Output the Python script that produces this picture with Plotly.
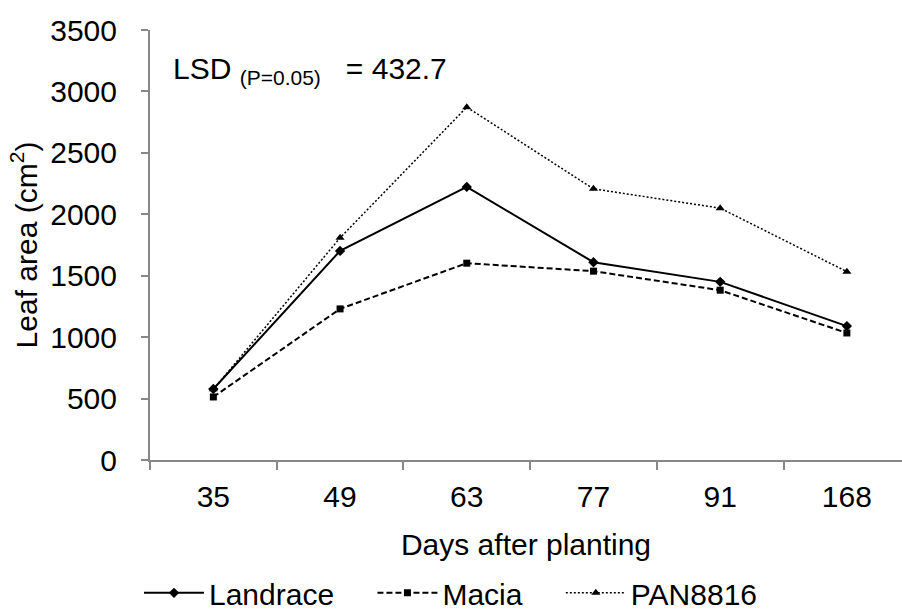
import plotly.graph_objects as go

days = ["35", "49", "63", "77", "91", "168"]
landrace = [578, 1702, 2223, 1610, 1450, 1090]
macia = [513, 1230, 1602, 1537, 1382, 1034]
pan8816 = [575, 1808, 2872, 2207, 2050, 1533]
series_names = ["Landrace", "Macia", "PAN8816"]

FONT = "Liberation Sans, Arial, sans-serif"
PAD = "\u00a0" * 4

fig = go.Figure()
fig.add_trace(go.Scatter(x=days, y=landrace, name=series_names[0] + PAD, mode="lines+markers",
                         line=dict(color="black", width=2, dash="solid"),
                         marker=dict(symbol="diamond", size=8, color="black")))
fig.add_trace(go.Scatter(x=days, y=macia, name=series_names[1] + PAD, mode="lines+markers",
                         line=dict(color="black", width=2, dash="6px,3px"),
                         marker=dict(symbol="square", size=7, color="black")))
fig.add_trace(go.Scatter(x=days, y=pan8816, name=series_names[2], mode="lines+markers",
                         line=dict(color="black", width=1.5, dash="2px,2px"),
                         marker=dict(symbol="triangle-up", size=8, color="black")))

fig.update_layout(
    width=902, height=615,
    margin=dict(l=150, r=0, t=30, b=155),
    plot_bgcolor="white", paper_bgcolor="white",
    font=dict(family=FONT, size=30, color="black"),
    showlegend=True,
    legend=dict(orientation="h", xref="container", yref="container",
                x=0.5, xanchor="center", y=0.036, yanchor="middle",
                font=dict(size=30), itemwidth=60, tracegroupgap=0),
    xaxis=dict(type="category", range=[-0.5, 5.435], showline=True, linecolor="#888888",
               linewidth=2, ticks="outside", tickson="boundaries", ticklen=8,
               tickcolor="#888888", tickwidth=2, showgrid=False, zeroline=False,
               ticklabelstandoff=9,
               title=dict(text="Days after planting", standoff=22, font=dict(size=30))),
    yaxis=dict(range=[0, 3500], dtick=500, showline=True, linecolor="#888888",
               linewidth=2, ticks="outside", ticklen=7, tickcolor="#888888",
               tickwidth=2, showgrid=False, zeroline=False, ticklabelstandoff=18,
               title=dict(text="Leaf area (cm<sup>2</sup>)", standoff=4, font=dict(size=30))),
    annotations=[dict(text="LSD <sub>(P=0.05)</sub>   = 432.7", xref="paper", yref="paper",
                      x=0.028, y=0.905, xanchor="left", yanchor="middle",
                      showarrow=False, font=dict(size=30))],
)

fig.write_html("out.html")
